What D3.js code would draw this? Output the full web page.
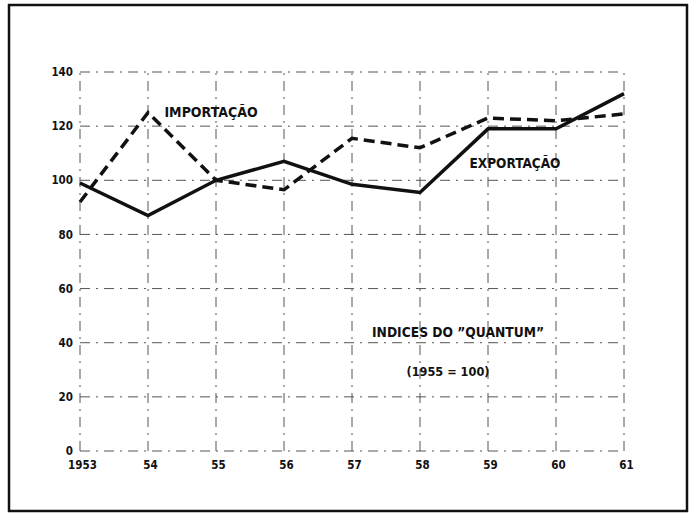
<!DOCTYPE html>
<html lang="pt">
<head>
<meta charset="utf-8">
<title>Indices do Quantum</title>
<script src="https://d3js.org/d3.v7.min.js"></script>
<style>
  body { margin: 0; background: #fff; }
  svg text { font-family: "DejaVu Sans Condensed", "DejaVu Sans", sans-serif; font-weight: bold; fill: #111; }
  .grid line { stroke: #555; stroke-width: 1; stroke-dasharray: 10,6,2,6; }
</style>
</head>
<body>
<div id="vis"></div>
<script>
// dados
var years = ["1953", "54", "55", "56", "57", "58", "59", "60", "61"];
var exportacao = [99, 87, 100, 107, 98.5, 95.5, 119, 119, 132];
var importacao = [92, 125, 100, 96.5, 115.5, 112, 123, 122, 124.5];
var yTicks = [0, 20, 40, 60, 80, 100, 120, 140];

var width = 692, height = 514;
var margin = {left: 80, right: 68, top: 72, bottom: 63};

var svg = d3.select("#vis").append("svg")
  .attr("width", width)
  .attr("height", height);

// moldura
svg.append("rect")
  .attr("x", 9).attr("y", 5)
  .attr("width", 678).attr("height", 506)
  .attr("fill", "none")
  .attr("stroke", "#111")
  .attr("stroke-width", 2.5);

var x = d3.scalePoint()
  .domain(years)
  .range([margin.left, width - margin.right]);

var y = d3.scaleLinear()
  .domain([0, 140])
  .range([height - margin.bottom, margin.top]);

// grade
var grid = svg.append("g").attr("class", "grid");
grid.selectAll(".h").data(yTicks).enter().append("line")
  .attr("x1", x.range()[0]).attr("x2", x.range()[1])
  .attr("y1", function(d){ return y(d); })
  .attr("y2", function(d){ return y(d); });
grid.selectAll(".v").data(years).enter().append("line")
  .attr("x1", function(d){ return x(d); })
  .attr("x2", function(d){ return x(d); })
  .attr("y1", y(0)).attr("y2", y(140));

// eixos (só os rótulos)
var yAxis = svg.append("g")
  .attr("transform", "translate(" + (margin.left - 7) + ",0)")
  .call(d3.axisLeft(y).tickValues(yTicks).tickSize(0).tickPadding(0));
yAxis.select(".domain").remove();
yAxis.selectAll("text").style("font-size", "11.5px").attr("dy", "0.32em");

var xAxis = svg.append("g")
  .attr("transform", "translate(2," + (y(0) + 10) + ")")
  .call(d3.axisBottom(x).tickSize(0).tickPadding(0));
xAxis.select(".domain").remove();
xAxis.selectAll("text").style("font-size", "11.5px").attr("dy", "0.71em");

// séries
var line = d3.line()
  .x(function(d, i){ return x(years[i]); })
  .y(function(d){ return y(d); });

svg.append("path")
  .attr("d", line(importacao))
  .attr("fill", "none")
  .attr("stroke", "#111")
  .attr("stroke-width", 3.5)
  .attr("stroke-dasharray", "11,6");

svg.append("path")
  .attr("d", line(exportacao))
  .attr("fill", "none")
  .attr("stroke", "#111")
  .attr("stroke-width", 3.5);

// rótulos
function label(txt, cx, cy, size) {
  svg.append("text")
    .attr("x", cx).attr("y", cy)
    .attr("text-anchor", "middle")
    .attr("dy", "0.35em")
    .style("font-size", size + "px")
    .text(txt);
}
label("IMPORTAÇÃO", 211, 112, 14);
label("EXPORTAÇÃO", 515, 163, 13.5);
label("INDICES DO \u201DQUANTUM\u201D", 458, 332, 13.7);
label("(1955 = 100)", 448, 372, 12.6);
</script>
</body>
</html>
